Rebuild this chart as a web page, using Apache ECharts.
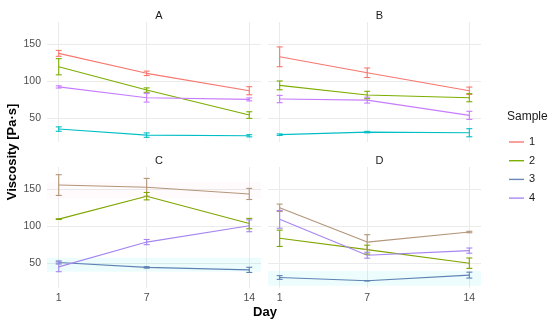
<!DOCTYPE html>
<html>
<head>
<meta charset="utf-8">
<script src="https://cdn.jsdelivr.net/npm/echarts@6/dist/echarts.min.js"></script>
<style>
html,body{margin:0;padding:0;background:#fff;}
#chart{width:550px;height:324px;}
</style>
</head>
<body>
<div id="chart"></div>
<script>
// ---- data ----
const days = [1, 7, 14];
const panelNames = ['A', 'B', 'C', 'D'];
const sampleNames = ['1', '2', '3', '4'];
const yTicks = [50, 100, 150];
// mean values per sample (rows: sample 1..4, cols: day 1, 7, 14)
const meanA = [[137.7, 110.5, 86.8], [119.5, 87.7, 53.7], [34.6, 26.4, 25.5], [92.0, 77.3, 75.0]];
const errA  = [[4, 3, 5.5], [11, 3, 4.5], [3, 3, 1.5], [1.5, 6, 2]];
const meanB = [[133.0, 111.3, 86.8], [94.1, 81.0, 77.3], [27.0, 30.5, 29.6], [75.5, 74.0, 53.3]];
const errB  = [[13.5, 6.5, 5], [6, 5, 5.5], [1, 1, 5.5], [5, 4, 5.5]];
const meanC = [[156.0, 153.0, 144.0], [110.0, 141.0, 104.0], [51.5, 44.8, 41.5], [45.5, 79.0, 101.0]];
const errC  = [[14, 12, 7.5], [0.5, 5, 7], [2, 1, 3.5], [6.5, 3.5, 8]];
const meanD = [[125.3, 79.0, 92.6], [84.1, 68.8, 50.5], [31.2, 26.8, 34.4], [109.7, 61.3, 67.5]];
const errD  = [[5, 10, 1], [11, 6, 7], [2.5, 0.3, 4], [12, 4, 3.5]];

const means = [meanA, meanB, meanC, meanD];
const errs = [errA, errB, errC, errD];

// ---- styles ----
const topColors = ['#F8766D', '#7CAE00', '#00BFC4', '#C77CFF'];
const bottomColors = ['#B3967A', '#7FA600', '#5E82B4', '#A685F0'];
const legendColors = ['#F8766D', '#7CAE00', '#6A88B8', '#A98AF0'];
const FONT = '"Liberation Sans", Arial, Helvetica, sans-serif';

const grids = [
  {left: 47, top: 22, width: 214, height: 120},
  {left: 268, top: 22, width: 213, height: 120},
  {left: 47, top: 167, width: 214, height: 121},
  {left: 268, top: 167, width: 213, height: 121}
];

const X_MIN = 0.2, X_MAX = 14.8, Y_MIN = 17, Y_MAX = 180.4;

const xAxes = grids.map((g, i) => ({
  type: 'value', gridIndex: i, min: X_MIN, max: X_MAX,
  axisLine: {show: false},
  axisTick: {show: false, customValues: days},
  axisLabel: {show: i >= 2, customValues: days, color: '#4D4D4D', fontSize: 10.5, fontFamily: FONT, margin: 5},
  splitLine: {show: true, lineStyle: {color: '#EBEBEB', width: 1}}
}));
const yAxes = grids.map((g, i) => ({
  type: 'value', gridIndex: i, min: Y_MIN, max: Y_MAX,
  axisLine: {show: false},
  axisTick: {show: false, customValues: yTicks},
  axisLabel: {show: i % 2 === 0, customValues: yTicks, color: '#4D4D4D', fontSize: 10.5, fontFamily: FONT, margin: 6},
  splitLine: {show: true, lineStyle: {color: '#EBEBEB', width: 1}}
}));

function renderErr(params, api) {
  const x = api.value(0), lo = api.value(1), hi = api.value(2);
  const p1 = api.coord([x, lo]);
  const p2 = api.coord([x, hi]);
  const w = 3;
  const style = {stroke: api.visual('color'), lineWidth: 1.1, fill: null};
  return {
    type: 'group',
    children: [
      {type: 'line', shape: {x1: p1[0], y1: p1[1], x2: p2[0], y2: p2[1]}, style: style},
      {type: 'line', shape: {x1: p1[0] - w, y1: p1[1], x2: p1[0] + w, y2: p1[1]}, style: style},
      {type: 'line', shape: {x1: p2[0] - w, y1: p2[1], x2: p2[0] + w, y2: p2[1]}, style: style}
    ]
  };
}

const series = [];
// faint highlight bands seen in lower panels
series.push({
  type: 'line', xAxisIndex: 2, yAxisIndex: 2, data: [], silent: true,
  markArea: {silent: true, data: [
    [{xAxis: X_MIN, yAxis: 138, itemStyle: {color: 'rgba(255,120,170,0.04)'}}, {xAxis: X_MAX, yAxis: 160}],
    [{xAxis: X_MIN, yAxis: 39, itemStyle: {color: 'rgba(0,220,230,0.07)'}}, {xAxis: X_MAX, yAxis: 58}]
  ]}
});
series.push({
  type: 'line', xAxisIndex: 3, yAxisIndex: 3, data: [], silent: true,
  markArea: {silent: true, data: [
    [{xAxis: X_MIN, yAxis: 20, itemStyle: {color: 'rgba(0,220,230,0.07)'}}, {xAxis: X_MAX, yAxis: 40}]
  ]}
});

means.forEach((panel, pi) => {
  const cols = pi < 2 ? topColors : bottomColors;
  panel.forEach((vals, si) => {
    const col = cols[si];
    series.push({
      name: sampleNames[si], type: 'line', xAxisIndex: pi, yAxisIndex: pi,
      data: days.map((d, k) => [d, vals[k]]),
      showSymbol: false, symbol: 'none',
      lineStyle: {color: col, width: 1.1},
      itemStyle: {color: col},
      z: 3, animation: false
    });
    series.push({
      type: 'custom', xAxisIndex: pi, yAxisIndex: pi,
      data: days.map((d, k) => [d, vals[k] - errs[pi][si][k], vals[k] + errs[pi][si][k]]),
      renderItem: renderErr,
      itemStyle: {color: col},
      encode: {x: 0, y: [1, 2]},
      z: 4, animation: false
    });
  });
});

const titles = panelNames.map((n, i) => ({
  text: n, left: grids[i].left + grids[i].width / 2, top: grids[i].top - 17,
  textAlign: 'center',
  textStyle: {fontSize: 11, fontWeight: 'normal', color: '#1A1A1A', fontFamily: FONT}
}));
titles.push({
  text: 'Sample', left: 502, top: 106,
  textStyle: {fontSize: 12, fontWeight: 'normal', color: '#1A1A1A', fontFamily: FONT}
});

const option = {
  animation: false,
  backgroundColor: '#FFFFFF',
  title: titles,
  grid: grids,
  xAxis: xAxes,
  yAxis: yAxes,
  legend: {
    orient: 'vertical', left: 504, top: 130,
    icon: 'rect', itemWidth: 15, itemHeight: 1.4, itemGap: 4.7,
    textStyle: {fontSize: 11, color: '#1A1A1A', fontFamily: FONT, lineHeight: 14},
    selectedMode: false,
    data: sampleNames.map((n, i) => ({name: n, itemStyle: {color: legendColors[i]}, lineStyle: {color: legendColors[i]}}))
  },
  graphic: [
    {type: 'text', x: 12, y: 152, rotation: Math.PI / 2,
     style: {text: 'Viscosity [Pa·s]', font: 'bold 13px ' + FONT, fill: '#000', align: 'center', verticalAlign: 'middle'}},
    {type: 'text', x: 265, y: 312,
     style: {text: 'Day', font: 'bold 13px ' + FONT, fill: '#000', align: 'center', verticalAlign: 'middle'}}
  ],
  series: series
};

const chart = echarts.init(document.getElementById('chart'), null, {renderer: 'canvas'});
chart.setOption(option);
</script>
</body>
</html>
